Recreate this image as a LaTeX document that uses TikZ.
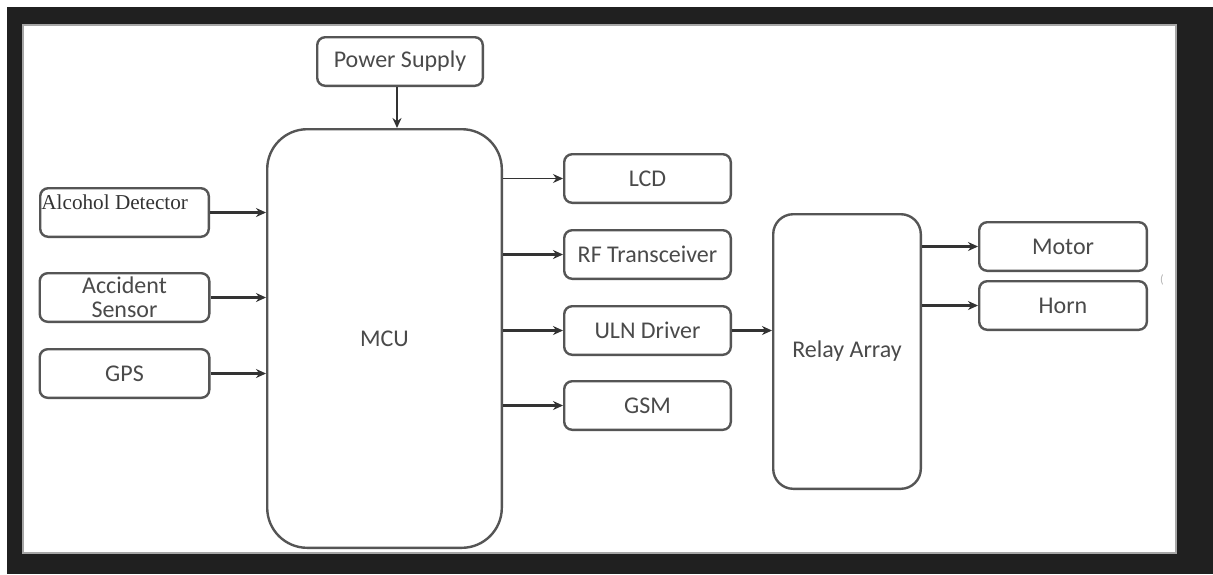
\documentclass[tikz,border=0pt]{standalone}
\usepackage{fontspec}
\setmainfont{Carlito}
\newfontfamily\serifface{Liberation Serif}
\usetikzlibrary{arrows.meta,positioning}
\definecolor{frame}{HTML}{202020}
\definecolor{edge}{HTML}{555555}
\definecolor{ink}{HTML}{4A4A4A}
\definecolor{tip}{HTML}{333333}

\begin{document}
\begin{tikzpicture}[
  node distance=12.5pt and 12.5pt,
  every node/.style={font=\fontsize{12}{12}\selectfont, text=ink, align=center},
  box/.style={draw=edge, line width=1.2pt, fill=white, rounded corners=4pt, minimum height=24.3pt, minimum width=83.3pt, inner sep=0pt},
  tallbox/.style={box, rounded corners=20pt},
  arr/.style={-{Stealth[length=5pt,width=4.5pt]}, line width=1.2pt, draw=edge, color=tip},
  thinarr/.style={arr, line width=0.6pt}
]
\useasboundingbox (0,0) rectangle (606.5pt,-287pt);
% dark screen frame
\fill[frame] (3.5pt,-3.5pt) rectangle (606.5pt,-287pt);
\filldraw[fill=white, draw=gray!70, line width=0.6pt] (11.5pt,-12.5pt) rectangle (588pt,-276.5pt);

\node[box, minimum width=82.8pt] (power) at (200pt,-30.75pt) {Power Supply};
\node[tallbox, minimum width=117.3pt, minimum height=209.3pt] (mcu) at (192.25pt,-169.25pt) {MCU};

% inputs
\node[box, minimum width=84.3pt] (alc) at (62.25pt,-106.25pt) {};
\node[anchor=west, inner sep=0pt, text=black!80, font=\serifface\fontsize{10.6}{12}\selectfont] (alctext) at ([xshift=1pt, yshift=5pt]alc.west) {Alcohol Detector};
\node[box, minimum width=84.8pt, below=17pt of alc] (acc) {Accident\\Sensor};
\node[box, minimum width=84.8pt, below=of acc] (gps) {GPS};

% outputs
\node[box] (lcd) at (323.75pt,-89.25pt) {LCD};
\node[box, below=of lcd] (rf) {RF Transceiver};
\node[box, below=of rf] (uln) {ULN Driver};
\node[box, below=12pt of uln] (gsm) {GSM};

\node[box, rounded corners=10pt, minimum width=73.8pt, minimum height=137.3pt] (relay) at (423.5pt,-175.75pt) {Relay Array};
\node[box, minimum width=83.8pt] (motor) at (531.5pt,-123.25pt) {Motor};
\node[box, minimum width=83.8pt, below=4pt of motor] (horn) {Horn};
\node[text=gray!60, font=\fontsize{6}{6}\selectfont] (mark) at (581pt,-140pt) {(};

\draw[arr] (power.south -| 198.5pt,0) -- (198.5pt,0 |- mcu.north);
\draw[arr] (alc) -- (alc -| mcu.west);
\draw[arr] (acc) -- (acc -| mcu.west);
\draw[arr] (gps) -- (gps -| mcu.west);
\draw[thinarr] (mcu.east |- lcd) -- (lcd);
\draw[arr] (mcu.east |- rf) -- (rf);
\draw[arr] (mcu.east |- uln) -- (uln);
\draw[arr] (mcu.east |- gsm) -- (gsm);
\draw[arr] (uln) -- (uln -| relay.west);
\draw[arr] (relay.east |- motor) -- (motor);
\draw[arr] (relay.east |- horn) -- (horn);
\end{tikzpicture}
\end{document}
